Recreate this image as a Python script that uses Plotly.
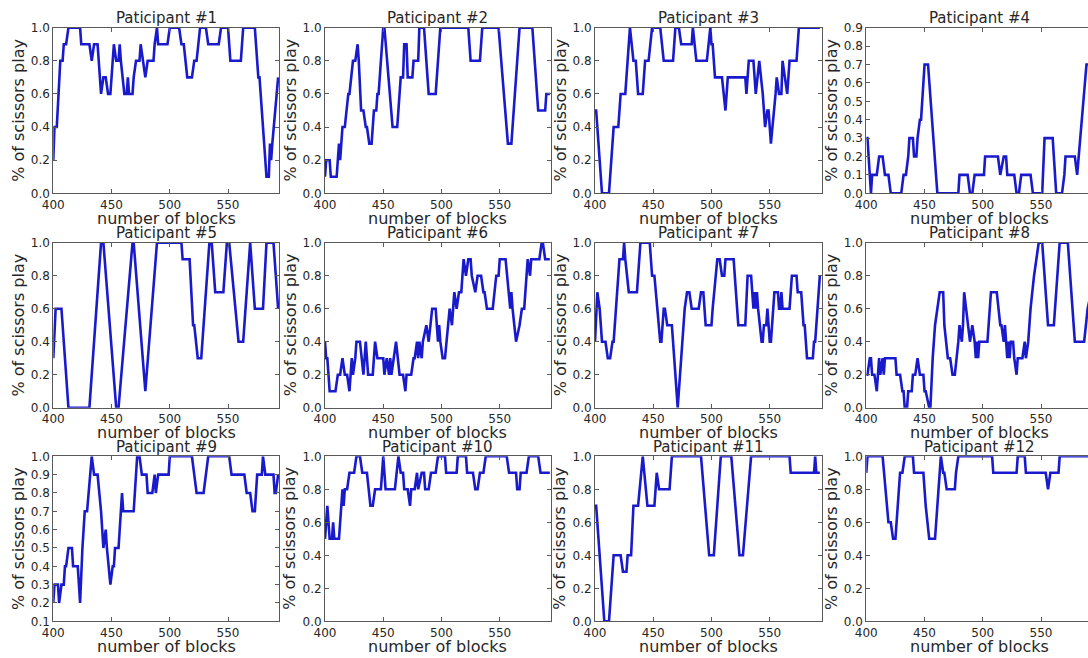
import plotly.graph_objects as go

# (block, share of scissors over the moving window) vertices for each participant
p1 = [(400,0.2),(401,0.4),(403,0.4),(406,0.8),(408,0.8),(409,0.9),(411,0.9),(413,1.0),(423,1.0),(424,0.9),(431,0.9),(433,0.8),(435,0.9),(438,0.9),(441,0.6),(443,0.7),(445,0.7),(447,0.6),(449,0.6),(452,0.9),(454,0.8),(456,0.8),(457,0.9),(458,0.8),(461,0.6),(463,0.6),(464,0.7),(465,0.6),(468,0.6),(469,0.7),(471,0.8),(474,0.8),(475,0.9),(477,0.8),(479,0.7),(481,0.8),(486,0.8),(487,0.9),(489,1.0),(490,0.9),(498,0.9),(500,1.0),(508,1.0),(510,0.9),(512,0.9),(515,0.7),(519,0.7),(521,0.8),(523,0.8),(526,1.0),(531,1.0),(533,0.9),(542,0.9),(544,1.0),(550,1.0),(552,0.8),(561,0.8),(563,1.0),(573,1.0),(576,0.7),(577,0.7),(583,0.1),(585,0.1),(586,0.3),(587,0.2),(588,0.3),(593,0.7)]
p2 = [(400,0.1),(401,0.2),(404,0.2),(405,0.1),(410,0.1),(411,0.2),(412,0.3),(413,0.2),(415,0.4),(417,0.4),(420,0.6),(421,0.6),(424,0.8),(426,0.8),(428,0.9),(429,0.8),(431,0.5),(433,0.5),(435,0.4),(436,0.4),(438,0.3),(440,0.3),(442,0.5),(444,0.5),(445,0.6),(446,0.6),(450,1.0),(451,1.0),(458,0.4),(462,0.4),(465,0.7),(467,0.7),(468,0.9),(470,0.9),(471,0.7),(475,0.7),(476,0.8),(480,0.8),(481,1.0),(485,1.0),(489,0.6),(495,0.6),(499,1.0),(523,1.0),(525,0.8),(533,0.8),(535,1.0),(549,1.0),(557,0.3),(560,0.3),(567,1.0),(578,1.0),(583,0.5),(589,0.5),(590,0.6),(593,0.6)]
p3 = [(400,0.5),(401,0.5),(406,0.0),(412,0.0),(416,0.4),(420,0.4),(422,0.6),(426,0.6),(430,1.0),(433,0.8),(435,0.8),(437,0.6),(441,0.6),(443,0.8),(446,0.8),(449,1.0),(456,1.0),(459,0.8),(467,0.8),(469,1.0),(472,1.0),(474,0.9),(483,0.9),(484,1.0),(487,0.8),(496,0.8),(499,1.0),(500,0.9),(501,0.9),(503,0.7),(509,0.7),(512,0.5),(514,0.7),(529,0.7),(530,0.6),(532,0.8),(536,0.8),(538,0.6),(541,0.8),(544,0.6),(546,0.4),(548,0.5),(549,0.5),(551,0.3),(555,0.6),(556,0.7),(558,0.6),(560,0.6),(561,0.8),(565,0.6),(567,0.8),(573,0.8),(575,1.0),(593,1.0)]
p4 = [(400,0.3),(401,0.3),(404,0.0),(405,0.1),(409,0.1),(411,0.2),(414,0.2),(416,0.1),(419,0.1),(421,0.0),(430,0.0),(432,0.1),(434,0.1),(436,0.2),(437,0.3),(440,0.3),(441,0.2),(443,0.2),(444,0.3),(446,0.4),(447,0.4),(450,0.7),(453,0.7),(461,0.0),(479,0.0),(480,0.1),(487,0.1),(489,0.0),(491,0.0),(493,0.1),(501,0.1),(502,0.2),(513,0.2),(515,0.1),(518,0.2),(520,0.2),(521,0.1),(527,0.1),(529,0.0),(531,0.0),(533,0.1),(541,0.1),(543,0.0),(551,0.0),(553,0.3),(560,0.3),(563,0.0),(568,0.0),(570,0.1),(571,0.2),(579,0.2),(581,0.1),(589,0.7),(593,0.7)]
p5 = [(400,0.3),(402,0.6),(407,0.6),(413,0.0),(431,0.0),(441,1.0),(443,1.0),(454,0.0),(456,0.0),(468,1.0),(469,1.0),(479,0.1),(489,1.0),(510,1.0),(511,0.9),(517,0.9),(520,0.5),(521,0.5),(524,0.3),(527,0.3),(534,1.0),(536,1.0),(539,0.7),(546,0.7),(549,1.0),(551,1.0),(559,0.4),(563,0.4),(569,1.0),(573,0.6),(580,0.6),(583,1.0),(589,1.0),(593,0.6)]
p6 = [(400,0.4),(401,0.3),(402,0.3),(404,0.1),(409,0.1),(411,0.2),(413,0.2),(415,0.3),(417,0.2),(419,0.2),(421,0.1),(423,0.3),(424,0.2),(426,0.3),(427,0.4),(430,0.4),(433,0.2),(435,0.4),(437,0.2),(441,0.2),(443,0.4),(445,0.3),(450,0.3),(451,0.2),(453,0.3),(455,0.2),(456,0.3),(457,0.2),(459,0.3),(461,0.4),(464,0.2),(467,0.2),(469,0.1),(470,0.2),(474,0.2),(476,0.3),(477,0.3),(479,0.4),(480,0.3),(481,0.4),(483,0.3),(484,0.4),(487,0.5),(489,0.4),(492,0.6),(495,0.6),(497,0.4),(498,0.5),(499,0.4),(501,0.3),(503,0.3),(506,0.5),(507,0.6),(509,0.5),(510,0.6),(511,0.7),(513,0.6),(515,0.7),(517,0.7),(519,0.9),(521,0.8),(523,0.9),(525,0.9),(526,0.8),(529,0.7),(531,0.8),(534,0.8),(536,0.7),(537,0.7),(539,0.6),(544,0.6),(547,0.8),(549,0.8),(550,0.9),(555,0.9),(559,0.6),(560,0.7),(561,0.6),(564,0.4),(567,0.5),(569,0.6),(571,0.6),(574,0.9),(576,0.8),(577,0.9),(584,0.9),(586,1.0),(587,1.0),(589,0.9),(593,0.9)]
p7 = [(400,0.4),(402,0.7),(404,0.6),(406,0.4),(409,0.4),(411,0.3),(413,0.3),(415,0.4),(416,0.4),(421,0.9),(424,0.9),(425,1.0),(426,0.9),(429,0.7),(436,0.7),(439,1.0),(447,1.0),(449,0.8),(451,0.8),(456,0.4),(457,0.4),(459,0.6),(460,0.6),(462,0.5),(466,0.5),(471,0.0),(477,0.6),(479,0.7),(481,0.7),(483,0.6),(489,0.6),(491,0.7),(493,0.7),(495,0.5),(500,0.5),(501,0.6),(505,0.9),(507,0.9),(509,0.8),(511,0.8),(512,0.9),(519,0.9),(522,0.6),(523,0.5),(529,0.5),(531,0.8),(534,0.8),(535,0.7),(536,0.6),(537,0.7),(538,0.6),(539,0.7),(540,0.6),(543,0.4),(544,0.4),(545,0.5),(547,0.5),(548,0.6),(550,0.4),(551,0.4),(552,0.5),(554,0.7),(557,0.7),(558,0.6),(559,0.6),(560,0.7),(561,0.6),(567,0.6),(569,0.8),(573,0.8),(574,0.7),(577,0.7),(579,0.5),(580,0.5),(582,0.3),(587,0.3),(588,0.4),(589,0.4),(593,0.8)]
p8 = [(400,0.2),(401,0.2),(403,0.3),(404,0.3),(405,0.2),(407,0.2),(409,0.1),(411,0.3),(412,0.2),(414,0.3),(415,0.2),(416,0.3),(425,0.3),(426,0.2),(429,0.2),(431,0.1),(432,0.1),(433,0.0),(435,0.0),(436,0.1),(439,0.1),(440,0.2),(442,0.2),(444,0.3),(446,0.2),(449,0.2),(450,0.1),(451,0.1),(454,0.0),(455,0.0),(457,0.3),(459,0.5),(461,0.6),(463,0.7),(466,0.7),(467,0.5),(470,0.3),(472,0.3),(474,0.2),(476,0.2),(479,0.4),(480,0.5),(482,0.4),(483,0.5),(484,0.7),(487,0.5),(489,0.4),(491,0.5),(493,0.4),(494,0.3),(495,0.4),(496,0.3),(497,0.4),(504,0.4),(506,0.6),(507,0.7),(512,0.7),(515,0.5),(516,0.5),(518,0.4),(519,0.5),(521,0.3),(522,0.4),(523,0.3),(524,0.4),(526,0.4),(527,0.3),(529,0.2),(530,0.3),(534,0.3),(536,0.4),(537,0.3),(539,0.4),(541,0.6),(544,0.8),(546,0.9),(548,1.0),(551,1.0),(556,0.5),(561,0.5),(566,1.0),(573,1.0),(579,0.4),(587,0.4),(590,0.6),(593,0.7)]
p9 = [(400,0.2),(401,0.3),(404,0.3),(405,0.2),(407,0.3),(409,0.3),(410,0.4),(411,0.4),(413,0.5),(416,0.5),(417,0.4),(421,0.4),(423,0.2),(425,0.5),(427,0.7),(429,0.7),(433,1.0),(435,0.9),(438,0.9),(441,0.7),(443,0.5),(445,0.6),(446,0.5),(449,0.3),(451,0.4),(452,0.4),(453,0.5),(456,0.5),(458,0.7),(459,0.8),(460,0.7),(469,0.7),(472,1.0),(474,1.0),(476,0.9),(480,0.9),(481,0.8),(485,0.8),(487,0.9),(488,0.8),(490,0.9),(499,0.9),(500,1.0),(519,1.0),(521,0.9),(523,0.8),(529,0.8),(531,0.9),(533,1.0),(551,1.0),(553,0.9),(564,0.9),(566,0.8),(569,0.8),(571,0.7),(573,0.7),(575,0.9),(579,0.9),(580,1.0),(582,0.9),(589,0.9),(590,0.8),(591,0.8),(593,0.9)]
p10 = [(400,0.5),(401,0.6),(402,0.7),(404,0.5),(406,0.5),(407,0.6),(408,0.5),(412,0.5),(415,0.8),(416,0.7),(417,0.8),(419,0.8),(421,0.9),(425,0.9),(427,1.0),(430,1.0),(432,0.9),(436,0.9),(439,0.7),(441,0.7),(443,0.8),(448,0.8),(450,1.0),(452,0.8),(460,0.8),(463,1.0),(465,0.9),(467,0.9),(468,0.8),(471,0.8),(473,0.7),(474,0.8),(477,0.8),(479,0.9),(480,0.8),(483,0.9),(485,0.9),(486,0.8),(489,0.8),(491,0.9),(495,0.9),(497,1.0),(503,1.0),(504,0.9),(513,0.9),(514,1.0),(521,1.0),(522,0.9),(527,0.9),(529,0.8),(531,0.8),(533,0.9),(536,0.9),(538,1.0),(556,1.0),(558,0.9),(564,0.9),(565,0.8),(567,0.8),(568,0.9),(573,0.9),(575,1.0),(583,1.0),(585,0.9),(593,0.9)]
p11 = [(400,0.7),(401,0.7),(408,0.0),(412,0.0),(416,0.4),(422,0.4),(424,0.3),(427,0.3),(428,0.4),(431,0.4),(433,0.7),(437,0.7),(441,1.0),(445,0.7),(451,0.7),(453,0.9),(455,0.8),(464,0.8),(466,1.0),(491,1.0),(498,0.4),(502,0.4),(508,1.0),(517,1.0),(524,0.4),(527,0.4),(534,1.0),(567,1.0),(568,0.9),(588,0.9),(589,1.0),(590,0.9),(593,0.9)]
p12 = [(400,0.9),(401,1.0),(414,1.0),(419,0.6),(421,0.6),(423,0.5),(425,0.5),(429,0.9),(431,0.9),(433,1.0),(440,1.0),(441,0.9),(449,0.9),(451,0.7),(454,0.5),(459,0.5),(464,1.0),(466,0.9),(467,0.9),(469,0.8),(476,0.8),(477,0.9),(479,1.0),(508,1.0),(509,0.9),(529,0.9),(530,1.0),(536,1.0),(537,0.9),(554,0.9),(556,0.8),(558,0.9),(565,0.9),(566,1.0),(593,1.0)]

participants = [p1, p2, p3, p4, p5, p6, p7, p8, p9, p10, p11, p12]
titles = ["Paticipant #%d" % (i + 1) for i in range(12)]
x_ticks = [400, 450, 500, 550]
y_ticks_default = [0.0, 0.2, 0.4, 0.6, 0.8, 1.0]
y_ticks_p4 = [0.0, 0.1, 0.2, 0.3, 0.4, 0.5, 0.6, 0.7, 0.8, 0.9]
y_ticks_p9 = [0.1, 0.2, 0.3, 0.4, 0.5, 0.6, 0.7, 0.8, 0.9, 1.0]

W, H = 1088, 658
FONT = "DejaVu Sans"
LINE_BLUE = "#1a1acd"
SPINE = "#5a5a5a"
TEXT = "#262626"

# panel frame geometry in pixels
col_left = [53.3, 325.0, 595.0, 866.3]
col_right = [279.3, 550.7, 821.7, 1088.0]
row_top = [27.7, 242.7, 456.3]
row_bottom = [193.3, 407.7, 621.3]
PX_PER_BLOCK = 226.0 / 194.0

fig = go.Figure()
annotations = []

for i, pts in enumerate(participants):
    r, c = divmod(i, 4)
    n = "" if i == 0 else str(i + 1)
    blocks = [p[0] for p in pts]
    share = [p[1] for p in pts]
    fig.add_trace(go.Scatter(
        x=blocks, y=share, mode="lines",
        line=dict(color=LINE_BLUE, width=2.6),
        xaxis="x" + n, yaxis="y" + n, showlegend=False, hoverinfo="skip",
    ))

    x0 = col_left[c] / W
    x1 = col_right[c] / W
    y0 = 1 - row_bottom[r] / H
    y1 = 1 - row_top[r] / H
    xmax = 400 + (col_right[c] - col_left[c]) / PX_PER_BLOCK

    if i == 3:
        yt, yr = y_ticks_p4, [0.0, 0.9]
    elif i == 8:
        yt, yr = y_ticks_p9, [0.1, 1.0]
    else:
        yt, yr = y_ticks_default, [0.0, 1.0]

    fig.layout["xaxis" + n] = dict(
        domain=[x0, x1], anchor="y" + n, range=[400, xmax],
        tickvals=x_ticks, ticktext=[str(v) for v in x_ticks],
        ticks="inside", ticklen=4, tickwidth=1, tickcolor=SPINE,
        showline=True, linecolor=SPINE, linewidth=1, mirror="ticks",
        showgrid=False, zeroline=False, automargin=False,
        tickfont=dict(family=FONT, size=12, color=TEXT),
    )
    fig.layout["yaxis" + n] = dict(
        domain=[y0, y1], anchor="x" + n, range=yr,
        tickvals=yt, ticktext=["%.1f" % v for v in yt],
        ticks="inside", ticklen=4, tickwidth=1, tickcolor=SPINE,
        showline=True, linecolor=SPINE, linewidth=1,
        mirror=False if c == 3 else "ticks",
        showgrid=False, zeroline=False, automargin=False,
        tickfont=dict(family=FONT, size=12, color=TEXT),
    )

    cx = (col_left[c] + col_right[c]) / 2 if c < 3 else (col_left[c] + 226 / 2)
    cy = (row_top[r] + row_bottom[r]) / 2
    # panel title
    annotations.append(dict(
        text=titles[i], x=cx / W, y=1 - (row_top[r] - 9.5) / H,
        xref="paper", yref="paper", xanchor="center", yanchor="middle",
        showarrow=False, font=dict(family=FONT, size=15, color=TEXT),
    ))
    # x axis label
    annotations.append(dict(
        text="number of blocks", x=cx / W, y=1 - (row_bottom[r] + 25) / H,
        xref="paper", yref="paper", xanchor="center", yanchor="middle",
        showarrow=False, font=dict(family=FONT, size=16, color=TEXT),
    ))
    # y axis label
    annotations.append(dict(
        text="% of scissors play", x=(col_left[c] - 35) / W, y=1 - cy / H,
        xref="paper", yref="paper", xanchor="center", yanchor="middle",
        textangle=-90, showarrow=False,
        font=dict(family=FONT, size=16, color=TEXT),
    ))

fig.update_layout(
    width=W, height=H,
    margin=dict(l=0, r=0, t=0, b=0, autoexpand=False),
    paper_bgcolor="white", plot_bgcolor="white",
    annotations=annotations,
    font=dict(family=FONT),
)

fig.write_html("out.html")
